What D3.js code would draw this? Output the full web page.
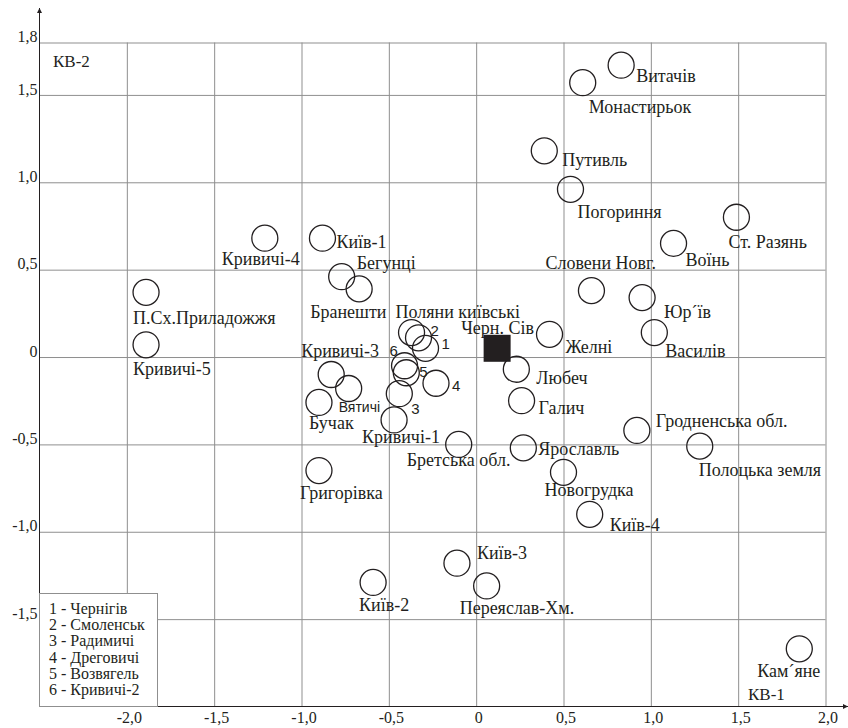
<!DOCTYPE html>
<html>
<head>
<meta charset="utf-8">
<script src="https://cdn.jsdelivr.net/npm/d3@7"></script>
<style>
	body { margin: 0; background: #fff; }
	svg text { font-family: "Liberation Serif", "Times New Roman", Times, serif; fill: #231f20; }
	svg text.sans { font-family: "Liberation Sans", Arial, Helvetica, sans-serif; }
</style>
</head>
<body>
<div id="graph"></div>
<script>
// --- data ---
var pointNames = ['Витачів', 'Монастирьок', 'Путивль', 'Погориння', 'Ст. Разянь', 'Воїнь',
	'Словени Новг.', 'Юр´їв', 'Василів', 'Желні', 'Любеч', 'Галич', 'Гродненська обл.',
	'Полоцька земля', 'Ярославль', 'Бретська обл.', 'Новогрудка', 'Київ-4', 'Київ-3',
	'Переяслав-Хм.', 'Київ-2', 'Кам´яне', 'Григорівка', 'Кривичі-4', 'Київ-1', 'Бегунці',
	'Бранешти', 'П.Сх.Приладожжя', 'Кривичі-5', 'Поляни київські', 'Кривичі-3', 'Вятичі',
	'Бучак', 'Кривичі-1', '1', '2', '3', '4', '5', '6'];

var xValues = [0.83, 0.61, 0.39, 0.54, 1.49, 1.13,
	0.66, 0.95, 1.02, 0.42, 0.23, 0.26, 0.92,
	1.28, 0.27, -0.10, 0.50, 0.65, -0.11,
	0.06, -0.59, 1.85, -0.90, -1.21, -0.88, -0.77,
	-0.67, -1.89, -1.89, -0.37, -0.83, -0.73,
	-0.90, -0.47, -0.29, -0.33, -0.44, -0.23, -0.40, -0.41];

var yValues = [1.67, 1.57, 1.18, 0.96, 0.80, 0.65,
	0.38, 0.34, 0.14, 0.13, -0.07, -0.25, -0.42,
	-0.51, -0.52, -0.50, -0.66, -0.90, -1.18,
	-1.31, -1.29, -1.67, -0.65, 0.68, 0.68, 0.46,
	0.39, 0.37, 0.07, 0.14, -0.10, -0.18,
	-0.26, -0.36, 0.05, 0.11, -0.21, -0.15, -0.09, -0.05];

// the reference point (black square)
var refName = 'Черн. Сів';
var refX = [0.12];
var refY = [0.05];

var xTicks = [-2.0, -1.5, -1.0, -0.5, 0, 0.5, 1.0, 1.5, 2.0];
var yTicks = [-1.5, -1.0, -0.5, 0, 0.5, 1.0, 1.5, 1.8];

var legendItems = ['1 - Чернігів', '2 - Смоленськ', '3 - Радимичі', '4 - Дреговичі',
	'5 - Возвягель', '6 - Кривичі-2'];

var cornerLabels = ['КВ-2', 'КВ-1'];

// label offsets from the circle centre, in px (same order as pointNames)
var labelOffsets = [[15, 17], [6, 30], [18, 15], [7, 29], [-8, 31], [12, 23],
	[-46, -22], [22, 20], [11, 24], [16, 19], [20, 15], [17, 13], [19, -3],
	[-1, 30], [15, 7], [-52, 22], [-19, 24], [20, 17], [20, -4],
	[-27, 28], [-14, 29], [-42, 28], [-19, 28], [-43, 27], [14, 10], [15, -8],
	[-49, 29], [-13, 32], [-13, 30], [-16, -15], [-30, -18], [-10, 24],
	[-10, 27], [-32, 23], [16, 1], [12, -2], [12, 20], [16, 8], [13, 4], [-15, -10]];

var SERIF = '"Liberation Serif", "Times New Roman", Times, serif';
var SANS = '"Liberation Sans", Arial, Helvetica, sans-serif';

var width = 848,
	height = 728;

var xScale = d3.scaleLinear()
	.domain([-2.5, 2.0])
	.range([39.5, 825.5]);

var yScale = d3.scaleLinear()
	.domain([-2.0, 1.8])
	.range([706.5, 42.5]);

function fmt(d) {
	if (d == 0) return '0';
	return d3.format('.1f')(d).replace('.', ',').replace('−', '-');
}

var svg = d3.select('#graph').append('svg')
	.attr('width', width)
	.attr('height', height)
	.attr('font-family', SERIF);

var defs = svg.append('defs');
defs.append('marker')
	.attr('id', 'arrow')
	.attr('viewBox', '0 0 10 10')
	.attr('refX', 10)
	.attr('refY', 5)
	.attr('markerWidth', 5)
	.attr('markerHeight', 5)
	.attr('orient', 'auto')
	.append('path')
		.attr('d', 'M0,0L10,5L0,10z')
		.attr('fill', '#231f20');

function drawGrid() {
	// horizontal grid + y labels
	var yAxis = d3.axisLeft(yScale)
		.tickValues(yTicks)
		.tickFormat(fmt)
		.tickSize(-(xScale(2.0) - xScale(-2.5)))
		.tickPadding(3);

	var gy = svg.append('g')
		.attr('class', 'yAxis')
		.attr('transform', 'translate(' + xScale(-2.5) + ',0)')
		.call(yAxis)
		.attr('font-family', SERIF)
		.attr('font-size', 16);

	gy.select('.domain').remove();
	gy.selectAll('.tick line')
		.attr('stroke', '#8f8f8f')
		.attr('stroke-width', 1);
	gy.selectAll('.tick text')
		.attr('x', -2)
		.attr('dy', '-0.05em')
		.attr('fill', '#231f20');

	// vertical grid + x labels
	var xAxis = d3.axisBottom(xScale)
		.tickValues(xTicks)
		.tickFormat(fmt)
		.tickSize(-(yScale(-2.0) - yScale(1.8)))
		.tickPadding(6);

	var gx = svg.append('g')
		.attr('class', 'xAxis')
		.attr('transform', 'translate(0,' + yScale(-2.0) + ')')
		.call(xAxis)
		.attr('font-family', SERIF)
		.attr('font-size', 16);

	gx.select('.domain').remove();
	gx.selectAll('.tick line')
		.attr('stroke', '#8f8f8f')
		.attr('stroke-width', 1);
	gx.selectAll('.tick text')
		.attr('x', 2)
		.attr('y', 16)
		.attr('dy', null)
		.attr('fill', '#231f20');
}

function drawAxes() {
	// main axes with arrow heads
	svg.append('line')
		.attr('x1', xScale(-2.5)).attr('y1', yScale(-2.0))
		.attr('x2', xScale(-2.5)).attr('y2', 8)
		.attr('stroke', '#231f20')
		.attr('stroke-width', 1)
		.attr('marker-end', 'url(#arrow)');

	svg.append('line')
		.attr('x1', xScale(-2.5)).attr('y1', yScale(-2.0))
		.attr('x2', 848).attr('y2', yScale(-2.0))
		.attr('stroke', '#231f20')
		.attr('stroke-width', 1)
		.attr('marker-end', 'url(#arrow)');
}

function drawLegend() {
	var lg = svg.append('g').attr('class', 'legend');

	lg.append('rect')
		.attr('x', xScale(-2.5))
		.attr('y', 593.5)
		.attr('width', 118)
		.attr('height', yScale(-2.0) - 593.5)
		.attr('fill', '#fff')
		.attr('stroke', '#8f8f8f');

	lg.selectAll('text').data(legendItems).enter()
		.append('text')
			.attr('x', 49)
			.attr('y', function(d, i) { return 614 + i * 16.2; })
			.attr('font-family', SERIF)
			.attr('font-size', 16)
			.text(function(d) { return d; });
}

function isSans(name) {
	return name == 'Вятичі' || /^\d$/.test(name);
}

function drawPoints() {
	var pts = pointNames.map(function(n, i) {
		return { name: n, x: xValues[i], y: yValues[i], off: labelOffsets[i] };
	});

	svg.selectAll('circle.pt').data(pts).enter()
		.append('circle')
			.attr('class', 'pt')
			.attr('cx', function(d) { return xScale(d.x); })
			.attr('cy', function(d) { return yScale(d.y); })
			.attr('r', 13)
			.attr('fill', 'none')
			.attr('stroke', '#231f20')
			.attr('stroke-width', 1.3);

	svg.selectAll('text.lbl').data(pts).enter()
		.append('text')
			.attr('class', function(d) { return isSans(d.name) ? 'lbl sans' : 'lbl'; })
			.attr('x', function(d) { return xScale(d.x) + d.off[0]; })
			.attr('y', function(d) { return yScale(d.y) + d.off[1]; })
			.attr('font-family', function(d) { return isSans(d.name) ? SANS : SERIF; })
			.attr('font-size', function(d) {
				if (d.name == 'Вятичі') return 14;
				if (/^\d$/.test(d.name)) return 15;
				return 18;
			})
			.text(function(d) { return d.name; });

	// reference square
	svg.selectAll('rect.ref').data(refX).enter()
		.append('rect')
			.attr('class', 'ref')
			.attr('x', function(d) { return xScale(d) - 13.5; })
			.attr('y', function(d, i) { return yScale(refY[i]) - 13.5; })
			.attr('width', 27)
			.attr('height', 27)
			.attr('fill', '#231f20');

	svg.append('text')
		.attr('x', xScale(refX[0]) - 36)
		.attr('y', yScale(refY[0]) - 14)
		.attr('font-size', 18)
		.text(refName);

	// quadrant captions
	svg.append('text')
		.attr('x', 53)
		.attr('y', 67)
		.attr('font-size', 17)
		.text(cornerLabels[0]);

	svg.append('text')
		.attr('x', 748)
		.attr('y', 700)
		.attr('font-size', 17)
		.text(cornerLabels[1]);
}

drawGrid();
drawAxes();
drawLegend();
drawPoints();
</script>
</body>
</html>
